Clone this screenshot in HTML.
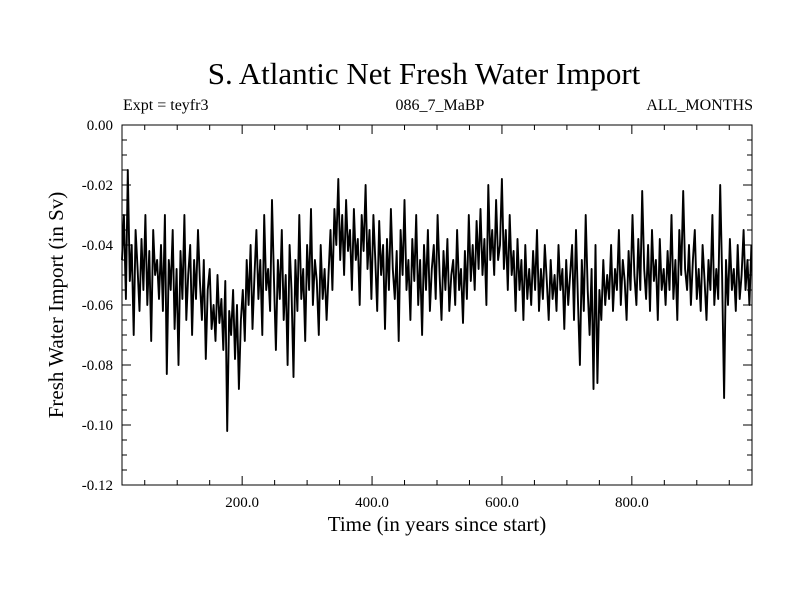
<!DOCTYPE html>
<html><head><meta charset="utf-8"><style>
body{margin:0;background:#fff}
svg text{font-family:"Liberation Serif",serif;fill:#000}
</style></head><body>
<svg id="chart" width="800" height="600">
<rect width="800" height="600" fill="#fff"/>
<text x="424" y="84" font-size="31" text-anchor="middle">S. Atlantic Net Fresh Water Import</text>
<text x="123" y="110" font-size="16">Expt = teyfr3</text>
<text x="440" y="110" font-size="16" text-anchor="middle">086_7_MaBP</text>
<text x="753" y="110" font-size="16" text-anchor="end">ALL_MONTHS</text>
<text x="437" y="531" font-size="21" text-anchor="middle">Time (in years since start)</text>
<text transform="translate(63,305) rotate(-90)" font-size="21" text-anchor="middle">Fresh Water Import (in Sv)</text>
<g id="axes"></g>
<path id="series" fill="none" stroke="#000" stroke-width="1.9" stroke-linejoin="round"/>
<rect x="122" y="125" width="630" height="360" fill="none" stroke="#000" stroke-width="1"/>
</svg>
<script>
const startYear = 15;
const stepYears = 3;
const values = [
-0.045,-0.030,-0.058,-0.015,-0.052,-0.040,-0.070,-0.035,-0.048,-0.062,
-0.038,-0.055,-0.030,-0.060,-0.042,-0.072,-0.035,-0.050,-0.045,-0.058,
-0.040,-0.062,-0.030,-0.083,-0.045,-0.055,-0.035,-0.068,-0.048,-0.080,
-0.042,-0.058,-0.030,-0.065,-0.050,-0.040,-0.070,-0.045,-0.058,-0.035,
-0.052,-0.065,-0.045,-0.078,-0.055,-0.048,-0.068,-0.060,-0.072,-0.050,
-0.066,-0.058,-0.075,-0.052,-0.102,-0.062,-0.070,-0.055,-0.078,-0.060,
-0.088,-0.065,-0.055,-0.072,-0.045,-0.060,-0.040,-0.068,-0.050,-0.035,
-0.058,-0.045,-0.070,-0.030,-0.055,-0.048,-0.062,-0.025,-0.052,-0.075,
-0.045,-0.058,-0.035,-0.065,-0.050,-0.080,-0.040,-0.055,-0.084,-0.045,
-0.062,-0.030,-0.058,-0.048,-0.072,-0.040,-0.055,-0.028,-0.060,-0.045,
-0.052,-0.070,-0.040,-0.058,-0.048,-0.065,-0.050,-0.035,-0.055,-0.028,
-0.040,-0.018,-0.045,-0.030,-0.050,-0.025,-0.042,-0.035,-0.055,-0.028,
-0.045,-0.038,-0.060,-0.030,-0.042,-0.020,-0.048,-0.035,-0.058,-0.030,
-0.045,-0.062,-0.032,-0.050,-0.040,-0.068,-0.038,-0.055,-0.028,-0.048,
-0.058,-0.042,-0.072,-0.035,-0.050,-0.025,-0.055,-0.045,-0.065,-0.038,
-0.052,-0.030,-0.060,-0.045,-0.070,-0.040,-0.055,-0.035,-0.062,-0.048,
-0.040,-0.058,-0.030,-0.050,-0.065,-0.042,-0.055,-0.038,-0.062,-0.050,
-0.045,-0.060,-0.035,-0.055,-0.048,-0.066,-0.042,-0.058,-0.030,-0.052,
-0.040,-0.055,-0.032,-0.048,-0.028,-0.050,-0.038,-0.060,-0.020,-0.045,
-0.035,-0.050,-0.025,-0.045,-0.040,-0.018,-0.048,-0.035,-0.055,-0.030,
-0.050,-0.042,-0.062,-0.038,-0.055,-0.045,-0.065,-0.040,-0.058,-0.048,
-0.060,-0.042,-0.055,-0.035,-0.062,-0.048,-0.058,-0.040,-0.052,-0.065,
-0.045,-0.058,-0.050,-0.062,-0.040,-0.055,-0.048,-0.068,-0.045,-0.060,
-0.050,-0.040,-0.065,-0.035,-0.058,-0.080,-0.045,-0.062,-0.030,-0.055,
-0.070,-0.048,-0.088,-0.040,-0.086,-0.055,-0.065,-0.045,-0.060,-0.050,
-0.058,-0.040,-0.062,-0.048,-0.055,-0.035,-0.060,-0.045,-0.052,-0.065,
-0.042,-0.055,-0.030,-0.050,-0.060,-0.038,-0.055,-0.022,-0.048,-0.058,
-0.040,-0.062,-0.035,-0.052,-0.045,-0.065,-0.038,-0.055,-0.048,-0.060,
-0.042,-0.055,-0.030,-0.058,-0.045,-0.065,-0.035,-0.050,-0.022,-0.048,
-0.055,-0.040,-0.060,-0.045,-0.035,-0.058,-0.048,-0.062,-0.040,-0.052,
-0.065,-0.045,-0.055,-0.030,-0.060,-0.048,-0.058,-0.020,-0.050,-0.091,
-0.045,-0.060,-0.038,-0.055,-0.048,-0.062,-0.040,-0.058,-0.050,-0.035,
-0.055,-0.045,-0.060,-0.040
];
const yTicks = [0, -0.02, -0.04, -0.06, -0.08, -0.10, -0.12];
const yTickLabels = ["0.00","-0.02","-0.04","-0.06","-0.08","-0.10","-0.12"];
const xTicks = [200, 400, 600, 800];
const xTickLabels = ["200.0","400.0","600.0","800.0"];

const L=122,R=752,T=125,B=485;
const xMin=15,xMax=985,yMin=-0.12,yMax=0;
const xs=v=>L+(v-xMin)/(xMax-xMin)*(R-L);
const ys=v=>B-(v-yMin)/(yMax-yMin)*(B-T);
const NS="http://www.w3.org/2000/svg";
const axes=document.getElementById('axes');
function line(x1,y1,x2,y2,name){
  const l=document.createElementNS(NS,'line');
  l.setAttribute('x1',x1);l.setAttribute('y1',y1);l.setAttribute('x2',x2);l.setAttribute('y2',y2);
  l.setAttribute('stroke','#000');l.setAttribute('stroke-width','1');
  
  
  axes.appendChild(l);
}
function txt(x,y,s,anchor,name){
  const t=document.createElementNS(NS,'text');
  t.setAttribute('x',x);t.setAttribute('y',y);t.setAttribute('font-size','15');t.setAttribute('text-anchor',anchor);
  t.textContent=s;
  
  
  axes.appendChild(t);
}
for(let v=0;v>=-0.12-1e-9;v-=0.005){
  const y=ys(v), major=Math.abs(Math.round(v*1000)%20)===0;
  const len=major?9:5;
  line(L,y,L+len,y,'y-tick');line(R,y,R-len,y,'y-tick-right');
}
yTicks.forEach((v,i)=>txt(L-9,ys(v)+5,yTickLabels[i],'end','y-tick-label'));
for(let v=50;v<xMax;v+=50){
  const x=xs(v), major=v%200===0, len=major?9:5;
  line(x,B,x,B-len,'x-tick');line(x,T,x,T+len,'x-tick-top');
}
xTicks.forEach((v,i)=>txt(xs(v),B+22,xTickLabels[i],'middle','x-tick-label'));
let d='';
values.forEach((v,i)=>{d+=(i?'L':'M')+xs(startYear+i*stepYears).toFixed(1)+' '+ys(v).toFixed(1);});
document.getElementById('series').setAttribute('d',d);
</script>
</body></html>
